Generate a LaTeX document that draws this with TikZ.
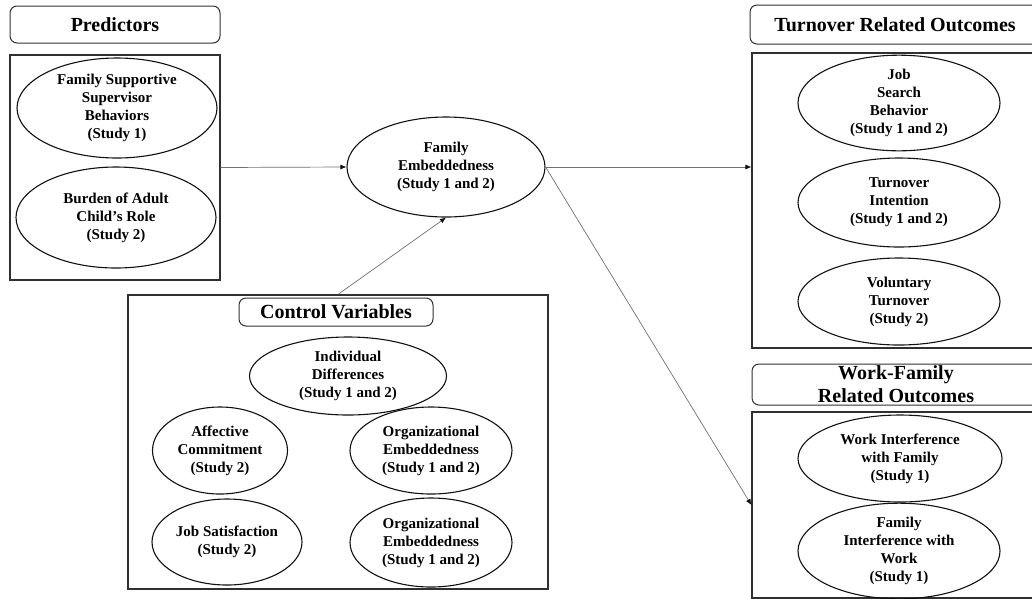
\documentclass[tikz,border=0pt]{standalone}
\usepackage{fontspec}
\setmainfont{Liberation Serif}
\usetikzlibrary{shapes.geometric,arrows.meta,positioning}
\definecolor{ink}{HTML}{111111}
\definecolor{edge}{HTML}{303030}
\definecolor{wire}{HTML}{707070}
\tikzset{
  cvar/.style={ellipse,draw=ink,line width=1.1pt,inner sep=0pt,align=center,
    font=\fontsize{15}{18}\selectfont\bfseries},
  hdr/.style={rectangle,rounded corners=7pt,draw=edge,line width=1pt,inner sep=0pt,
    align=center,font=\fontsize{20}{23}\selectfont\bfseries},
  grp/.style={rectangle,draw=edge,line width=1.2pt,inner sep=0pt},
  lnk/.style={wire,line width=0.7pt,-{Latex[length=6pt,width=5pt,color=ink]}},
}

\begin{document}
\begin{tikzpicture}[x=1pt,y=-1pt]
  \useasboundingbox (0,0) rectangle (1032,598);
  \clip (0,0) rectangle (1032,598);
  % ---------- predictors ----------
  \node[hdr,minimum width=210pt,minimum height=37pt] (phdr) at (115,24.5) {Predictors};
  \node[grp,minimum width=210pt,minimum height=225pt] (pgrp) at (115,167.5) {};
  \node[cvar,minimum width=200pt,minimum height=100pt] (fssb) at (117,108)
    {Family Supportive\\Supervisor\\Behaviors\\(Study 1)};
  \node[cvar,minimum width=200pt,minimum height=101pt] (burden) at (116,217.5)
    {Burden of Adult\\Child’s Role\\(Study 2)};
  % ---------- mediator ----------
  \node[cvar,minimum width=198pt,minimum height=100pt] (fe) at (446,167)
    {Family\\Embeddedness\\(Study 1 and 2)};
  % ---------- control variables ----------
  \node[grp,minimum width=420pt,minimum height=294pt] (cgrp) at (338,442) {};
  \node[hdr,minimum width=194pt,minimum height=28pt,fill=white] (chdr) at (336,312) {Control Variables};
  \node[cvar,minimum width=197pt,minimum height=78pt] (indiv) at (348,376)
    {Individual\\Differences\\(Study 1 and 2)};
  \node[cvar,minimum width=135pt,minimum height=87pt] (affc) at (220,450.5)
    {Affective\\Commitment\\(Study 2)};
  \node[cvar,minimum width=162pt,minimum height=87pt] (orga) at (431,450.5)
    {Organizational\\Embeddedness\\(Study 1 and 2)};
  \node[cvar,minimum width=150pt,minimum height=86pt] (jsat) at (227,542)
    {Job Satisfaction\\(Study 2)};
  \node[cvar,minimum width=162pt,minimum height=89pt] (orgb) at (431,542.5)
    {Organizational\\Embeddedness\\(Study 1 and 2)};
  % ---------- turnover outcomes ----------
  \node[hdr,minimum width=290pt,minimum height=39pt] (thdr) at (895,24.5) {Turnover Related Outcomes};
  \node[grp,minimum width=290pt,minimum height=295pt] (tgrp) at (897,200.5) {};
  \node[cvar,minimum width=202pt,minimum height=88pt] (jsb) at (899,103)
    {Job\\Search\\Behavior\\(Study 1 and 2)};
  \node[cvar,minimum width=202pt,minimum height=89pt] (tint) at (899,202.5)
    {Turnover\\Intention\\(Study 1 and 2)};
  \node[cvar,minimum width=202pt,minimum height=87pt] (volt) at (899,301.5)
    {Voluntary\\Turnover\\(Study 2)};
  % ---------- work-family outcomes ----------
  \node[hdr,minimum width=288pt,minimum height=41pt] (whdr) at (896,384.5) {Work-Family\\Related Outcomes};
  \node[grp,minimum width=290pt,minimum height=186pt] (wgrp) at (897,505) {};
  \node[cvar,minimum width=204pt,minimum height=87pt] (wif) at (900,458.5)
    {Work Interference\\with Family\\(Study 1)};
  \node[cvar,minimum width=202pt,minimum height=88pt] (fiw) at (899,551)
    {Family\\Interference with\\Work\\(Study 1)};
  % ---------- paths ----------
  \draw[lnk] (pgrp.east) -- (fe.west);
  \draw[lnk] (cgrp.north) -- (fe.south);
  \draw[lnk] (fe.east) -- (fe.east -| tgrp.west);
  \draw[lnk] (fe.east) -- (wgrp.west);
\end{tikzpicture}
\end{document}
